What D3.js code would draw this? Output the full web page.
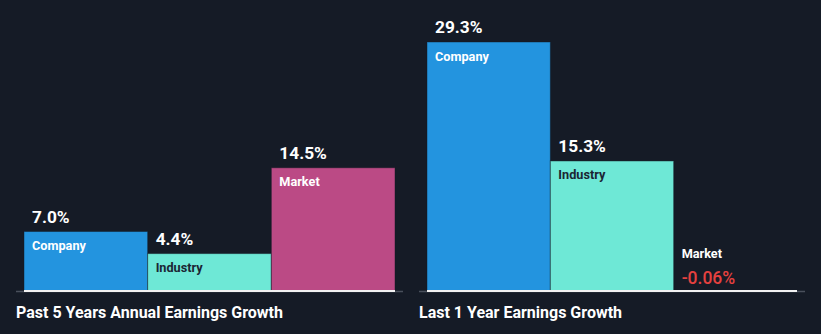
<!DOCTYPE html>
<html>
<head>
<meta charset="utf-8">
<script src="https://cdn.jsdelivr.net/npm/d3@7"></script>
<style>
  html, body { margin: 0; padding: 0; background: #151b26; }
  svg { display: block; font-family: Roboto, "Noto Sans", sans-serif; }
</style>
</head>
<body>
<svg id="chart" width="821" height="334"></svg>
<script>
// Earnings growth comparison, two panels
const panelTitles = ["Past 5 Years Annual Earnings Growth", "Last 1 Year Earnings Growth"];
const categories = ["Company", "Industry", "Market"];
const past5Years = [7.0, 4.4, 14.5];
const last1Year = [29.3, 15.3, -0.06];
const valueLabels = [["7.0%", "4.4%", "14.5%"], ["29.3%", "15.3%", "-0.06%"]];

const colors = { Company: "#2394df", Industry: "#6ee8d6", Market: "#bb4a85" };
const labelColors = { Company: "#ffffff", Industry: "#1b2533", Market: "#ffffff" };

const svg = d3.select("#chart");
const baseY = 291;

// shared value scale for both panels
const y = d3.scaleLinear().domain([0, 29.3]).range([baseY, 42]);

const panels = [
  { title: panelTitles[0], values: past5Years, labels: valueLabels[0], x0: 24, x1: 395, axis0: 16, axis1: 403 },
  { title: panelTitles[1], values: last1Year, labels: valueLabels[1], x0: 427, x1: 797, axis0: 419, axis1: 805 }
];

panels.forEach(p => {
  const g = svg.append("g");
  const x = d3.scaleBand().domain(categories).range([p.x0, p.x1]).padding(0);

  // grey axis line
  g.append("line")
    .attr("x1", p.axis0).attr("x2", p.axis1)
    .attr("y1", baseY + 0.5).attr("y2", baseY + 0.5)
    .attr("stroke", "#4a505c").attr("stroke-width", 1.5);

  const data = categories.map((c, i) => ({ c, v: p.values[i], label: p.labels[i] }));

  g.selectAll("rect.bar").data(data).enter().append("rect")
    .attr("class", "bar")
    .attr("x", d => x(d.c))
    .attr("width", x.bandwidth())
    .attr("y", d => Math.min(y(d.v), baseY))
    .attr("height", d => Math.abs(baseY - y(d.v)))
    .attr("fill", d => colors[d.c])
    .attr("stroke", "rgba(21,27,38,0.45)")
    .attr("stroke-width", d => Math.abs(baseY - y(d.v)) > 1 ? 1 : 0);

  // white baseline under the bars
  g.append("line")
    .attr("x1", p.x0).attr("x2", p.x1)
    .attr("y1", baseY).attr("y2", baseY)
    .attr("stroke", "#f2f2f2").attr("stroke-width", 2);

  data.forEach(d => {
    const tx = x(d.c) + 8;
    if (d.v >= 0.5) {
      const top = y(d.v);
      g.append("text")
        .attr("x", tx).attr("y", top - 9)
        .attr("fill", "#ffffff").attr("font-size", 17.3).attr("font-weight", 700)
        .text(d.label);
      g.append("text")
        .attr("x", tx).attr("y", top + 18.5)
        .attr("fill", labelColors[d.c]).attr("font-size", 12.7).attr("font-weight", 700)
        .text(d.c);
    } else {
      g.append("text")
        .attr("x", tx).attr("y", baseY - 33)
        .attr("fill", "#ffffff").attr("font-size", 12.7).attr("font-weight", 700)
        .text(d.c);
      g.append("text")
        .attr("x", tx).attr("y", baseY - 7)
        .attr("fill", d.v < 0 ? "#e5413f" : "#ffffff").attr("font-size", 17.5).attr("font-weight", 500)
        .text(d.label);
    }
  });

  g.append("text")
    .attr("x", p.axis0).attr("y", 318)
    .attr("fill", "#ffffff").attr("font-size", 16).attr("font-weight", 700)
    .text(p.title);
});
</script>
</body>
</html>
